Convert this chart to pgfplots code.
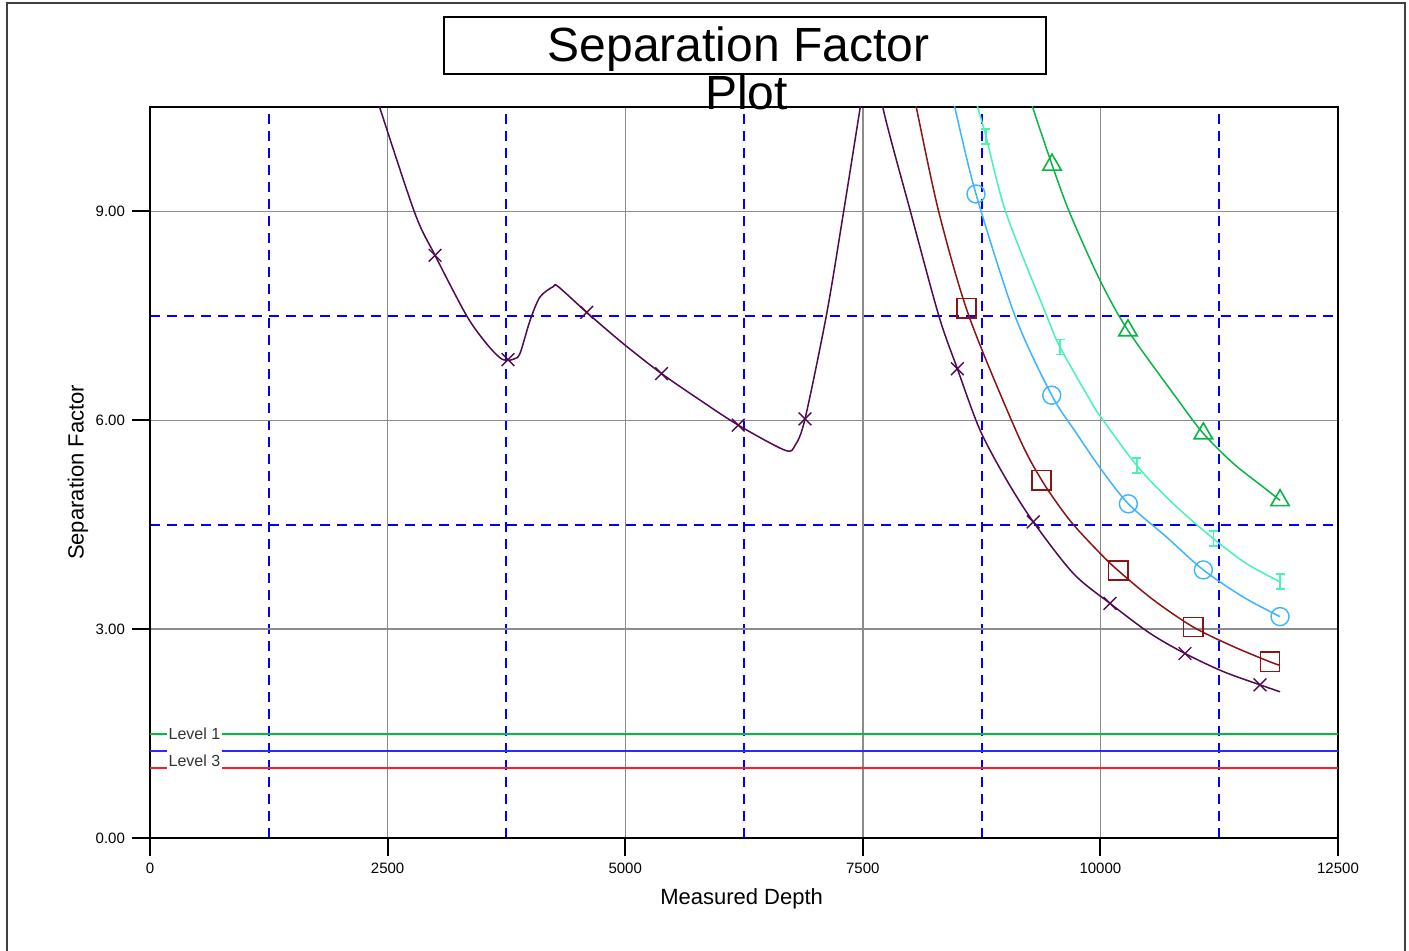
\documentclass[border=0pt]{standalone}
\usepackage{pgfplots}
\pgfplotsset{compat=1.18}
\usepackage{fontspec}
\setmainfont{Liberation Sans}
\definecolor{cPur}{RGB}{80,10,80}
\definecolor{cRed}{RGB}{140,20,20}
\definecolor{cLB}{RGB}{60,180,255}
\definecolor{cAq}{RGB}{70,245,180}
\definecolor{cGr}{RGB}{10,180,70}
\definecolor{levelgreen}{RGB}{0,190,60}
\definecolor{levelblue}{RGB}{40,40,255}
\definecolor{levelred}{RGB}{255,30,30}
\pgfdeclareplotmark{Ibeam}{%
 \pgfpathmoveto{\pgfqpoint{-0.6\pgfplotmarksize}{\pgfplotmarksize}}%
 \pgfpathlineto{\pgfqpoint{0.6\pgfplotmarksize}{\pgfplotmarksize}}%
 \pgfpathmoveto{\pgfqpoint{-0.6\pgfplotmarksize}{-\pgfplotmarksize}}%
 \pgfpathlineto{\pgfqpoint{0.6\pgfplotmarksize}{-\pgfplotmarksize}}%
 \pgfpathmoveto{\pgfqpoint{0pt}{\pgfplotmarksize}}%
 \pgfpathlineto{\pgfqpoint{0pt}{-\pgfplotmarksize}}%
 \pgfusepathqstroke}
\begin{document}
\begin{tikzpicture}
\useasboundingbox (0,0) rectangle (704.5pt,475.5pt);
\fill[white] (0,0) rectangle (704.5pt,475.5pt);
\draw[line width=1pt, black!75] (3.5pt,-1pt) -- (3.5pt,474pt) -- (702.5pt,474pt) -- (702.5pt,-1pt);
\begin{axis}[
 at={(75pt,56.5pt)}, anchor=south west,
 scale only axis, width=594pt, height=365.5pt,
 xmin=0, xmax=12500, ymin=0, ymax=10.5,
 xtick={0,2500,...,12500}, ytick={0,3,6,9},
 minor xtick={1250,3750,...,11250}, minor ytick={4.5,7.5},
 scaled x ticks=false,
 grid=both,
 major grid style={gray!90, line width=0.7pt},
 minor grid style={blue, dash pattern=on 5pt off 3.5pt, line width=1pt},
 axis line style={black, line width=1pt},
 tick align=outside, major tick length=9pt, minor tick length=0pt,
 tick pos=left,
 major tick style={black, line width=1pt},
 /pgf/number format/1000 sep={},
 /pgf/number format/assume math mode=true,
 ticklabel style={font=\fontsize{7.5}{9}\selectfont},
 yticklabel={\pgfmathprintnumber[fixed,fixed zerofill,precision=2]{\tick}},
 xlabel={Measured Depth},
 xlabel style={at={(axis description cs:0.498,-0.0834)}, anchor=center, font=\fontsize{11}{13}\selectfont},
 ylabel={Separation Factor},
 ylabel style={at={(axis description cs:-0.0606,0.5)}, anchor=center, font=\fontsize{11}{13}\selectfont},
]
% level lines
\addplot[draw=levelgreen, line width=1pt] coordinates {(0,1.5) (12500,1.5)};
\addplot[draw=levelblue, line width=0.9pt] coordinates {(0,1.25) (12500,1.25)};
\addplot[draw=levelred, line width=0.9pt] coordinates {(0,1.0) (12500,1.0)};
\node[fill=white, inner xsep=1pt, inner ysep=1pt, text=black!80, font=\fontsize{8}{9}\selectfont] at (axis cs:468,1.49) {Level 1};
\node[fill=white, inner xsep=1pt, inner ysep=1pt, minimum height=13pt, text=black!80, font=\fontsize{8}{9}\selectfont] at (axis cs:468,1.11) {Level 3};
% purple
\addplot[cPur, line width=0.75pt, smooth, tension=0.5] coordinates {
(2390,10.62) (2420,10.48) (2788,8.97) (2999,8.37) (3332,7.5) (3541,7.10) (3680,6.90) (3753,6.86)
(3830,6.88) (3893,6.96) (3998,7.43) (4103,7.77) (4243,7.92) (4295,7.92) (4595,7.55) (4980,7.10)
(5383,6.67) (5787,6.29) (6190,5.93) (6681,5.57) (6787,5.64) (6892,6.02) (7120,7.53) (7295,8.97)
(7470,10.47) (7590,11.5) (7713,10.48) (8005,8.98) (8300,7.5) (8495,6.74) (8733,5.86) (9014,5.14)
(9294,4.54) (9715,3.80) (10101,3.37) (10522,2.94) (10890,2.65) (11293,2.39) (11679,2.20) (11890,2.10)};
\addplot[only marks, mark=x, mark size=4.5pt, cPur, mark options={line width=0.7pt}] coordinates {
(2999,8.37) (3767,6.87) (4595,7.55) (5383,6.67) (6190,5.93) (6892,6.02) (8495,6.74) (9294,4.54)
(10101,3.37) (10890,2.65) (11679,2.20)};
% dark red
\addplot[cRed, line width=0.75pt, smooth, tension=0.5] coordinates {
(8030,10.7) (8065,10.48) (8300,8.99) (8616,7.5) (9125,5.81) (9382,5.14) (9680,4.56)
(9996,4.09) (10188,3.84) (10557,3.42) (10977,3.03) (11398,2.75) (11785,2.53) (11890,2.48)};
\addplot[only marks, mark=square, mark size=4.8pt, cRed, mark options={line width=0.8pt}] coordinates {
(8590,7.61) (9382,5.14) (10188,3.84) (10977,3.03) (11785,2.53)};
% light blue
\addplot[cLB, line width=0.75pt, smooth, tension=0.5] coordinates {
(8440,10.65) (8470,10.48) (8691,9.25) (9101,7.5) (9488,6.36) (9750,5.81) (10000,5.31)
(10294,4.80) (10698,4.32) (11083,3.85) (11504,3.46) (11890,3.18)};
\addplot[only marks, mark=o, mark size=4.5pt, cLB, mark options={line width=0.7pt}] coordinates {
(8691,9.25) (9488,6.36) (10294,4.80) (11083,3.85) (11890,3.18)};
% aquamarine
\addplot[cAq, line width=0.75pt, smooth, tension=0.5] coordinates {
(8680,10.65) (8712,10.48) (8796,10.08) (9007,8.98) (9435,7.5) (9575,7.05) (9891,6.29) (9977,6.10)
(10382,5.35) (10768,4.80) (11188,4.30) (11538,3.94) (11890,3.68)};
\addplot[only marks, mark=Ibeam, mark size=3.75pt, cAq, mark options={line width=0.8pt}] coordinates {
(8796,10.08) (9575,7.05) (10382,5.35) (11188,4.30) (11890,3.68)};
% green
\addplot[cGr, line width=0.75pt, smooth, tension=0.5] coordinates {
(9250,10.68) (9291,10.48) (9491,9.67) (9680,8.97) (9996,8.01) (10290,7.29) (10817,6.29) (11083,5.81)
(11398,5.38) (11714,5.04) (11890,4.85)};
\addplot[only marks, mark=triangle, mark size=5.3pt, cGr, mark options={line width=0.8pt}] coordinates {
(9491,9.67) (10290,7.29) (11083,5.81) (11890,4.85)};
\end{axis}
\draw[line width=1pt] (222pt,438.5pt) rectangle (523pt,467pt);
\node[anchor=base, inner sep=0pt, font=\fontsize{24}{28}\selectfont] at (369.25pt,444.5pt) {Separation Factor};
\node[anchor=base, inner sep=0pt, font=\fontsize{24}{28}\selectfont] at (373.25pt,420.5pt) {Plot};
\end{tikzpicture}
\end{document}
